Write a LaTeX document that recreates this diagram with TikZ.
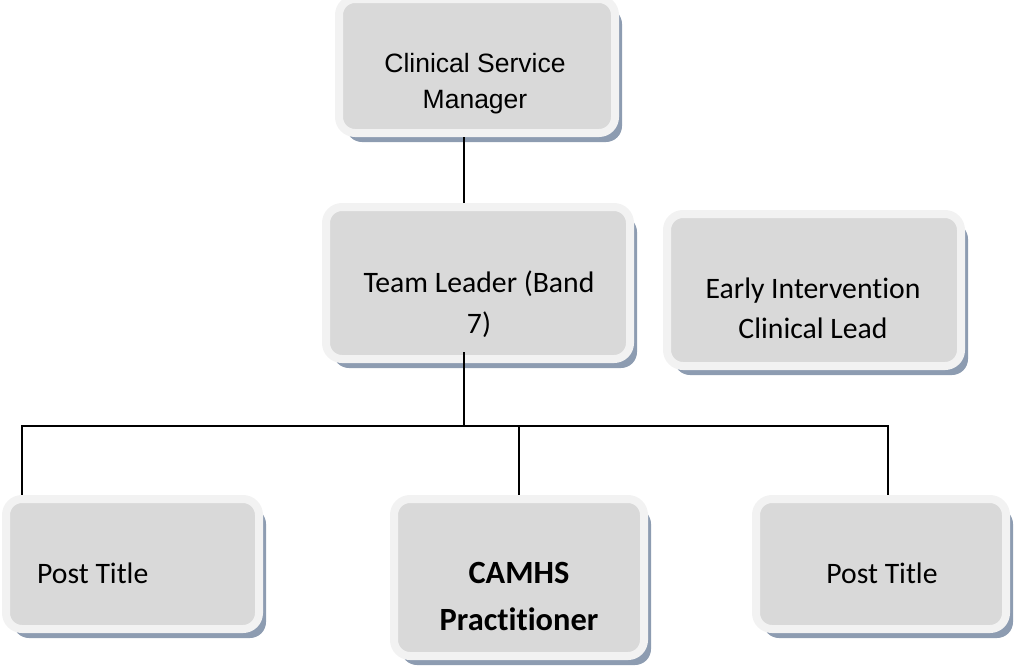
\documentclass[tikz,border=0pt]{standalone}
\usepackage{fontspec}
\setmainfont{Carlito}[Ligatures=NoCommon]
\newfontfamily\arialfont{Liberation Sans}
\usetikzlibrary{shadows,calc,backgrounds}
\definecolor{boxfill}{HTML}{D9D9D9}
\definecolor{boxrim}{HTML}{F2F2F2}
\definecolor{shadowblue}{HTML}{8D9CB1}

\begin{document}
\begin{tikzpicture}[
  x=1pt, y=-1pt,
  post/.style={draw=boxrim, fill=boxfill, line width=8pt, rounded corners=16pt, inner sep=0pt,
    drop shadow={shadow xshift=7pt, shadow yshift=-9pt, fill=shadowblue, opacity=1}},
  caption/.style={align=center, inner sep=0pt, anchor=base, font=\fontsize{29.7}{40}\selectfont},
  link/.style={line width=1.5pt},
  ]
\useasboundingbox (0,0) rectangle (1016,667);

\node[post, minimum width=276pt, minimum height=134pt] (csm) at (477,66) {};
\node[post, minimum width=304pt, minimum height=152pt] (tl) at (478,283) {};
\node[post, minimum width=294pt, minimum height=152pt] (eic) at (814,290) {};
\node[post, minimum width=253pt, minimum height=130pt] (pt1) at (132.5,564) {};
\node[post, minimum width=250pt, minimum height=157pt] (camhs) at (519,577.5) {};
\node[post, minimum width=250pt, minimum height=130pt] (pt2) at (881,564) {};

% base anchor sits on the last line
\node[caption, font=\arialfont\fontsize{26.5}{36}\selectfont] (csm-text) at (475,108) {Clinical Service\\Manager};
\node[caption, font=\fontsize{29.7}{41}\selectfont] (tl-text) at (479,333) {Team Leader (Band\\7)};
\node[caption] (eic-text) at (813,338) {Early Intervention\\Clinical Lead};
\node[caption, anchor=base west] (pt1-text) at (37,583) {Post Title};
\node[caption, font=\bfseries\fontsize{32.4}{47}\selectfont] (camhs-text) at (519,630) {CAMHS\\Practitioner};
\node[caption] (pt2-text) at (882,583) {Post Title};

% reporting lines
\coordinate (trunk) at (464,0);
\coordinate (bar) at (0,426);
\coordinate (leftdrop) at (22,0);
\coordinate (rightdrop) at (888,0);
\coordinate (tlfoot) at ($(trunk |- tl.south)+(0,-11)$);
\draw[link] (trunk |- csm.south) -- (trunk |- tl.north);
\draw[link] (tlfoot) -- (trunk |- bar);
\begin{scope}[on background layer]
  \draw[link] (leftdrop |- pt1.north) -- (leftdrop |- bar) -- (rightdrop |- bar) -- (rightdrop |- pt2.north);
  \draw[link] (camhs.north |- bar) -- (camhs.north);
\end{scope}
\end{tikzpicture}
\end{document}
